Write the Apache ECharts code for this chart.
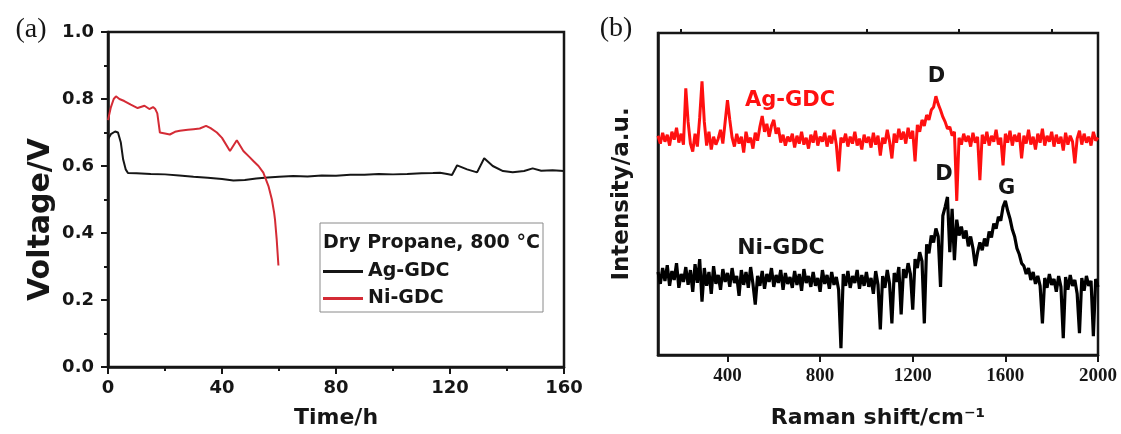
<!DOCTYPE html>
<html><head><meta charset="utf-8">
<script src="https://cdn.jsdelivr.net/npm/echarts@6/dist/echarts.min.js"></script>
<style>html,body{margin:0;padding:0;background:#fff}#c{width:1121px;height:434px}</style>
</head><body><div id="c"></div>
<script>
// ---------- Panel (a): cell voltage vs time ----------
const timeTicks = [0, 40, 80, 120, 160];
const voltageTicks = [0.0, 0.2, 0.4, 0.6, 0.8, 1.0];

const agTime = [0, 1, 2.5, 3.5, 4.5, 5.3, 6.2, 7, 10, 15, 20, 25, 30, 35, 40, 44, 48, 52, 56, 60, 65, 70, 75, 80, 85, 90, 95, 100, 105, 110, 114, 116.5, 119, 120.7, 122.5, 126, 129.5, 132, 135, 138.6, 142, 146, 149, 152, 156, 160];
const agVoltage = [0.68, 0.695, 0.703, 0.70, 0.67, 0.62, 0.59, 0.579, 0.578, 0.576, 0.575, 0.572, 0.568, 0.565, 0.561, 0.557, 0.558, 0.563, 0.566, 0.568, 0.570, 0.569, 0.572, 0.571, 0.574, 0.574, 0.576, 0.575, 0.576, 0.578, 0.579, 0.580, 0.576, 0.573, 0.602, 0.590, 0.581, 0.623, 0.600, 0.585, 0.581, 0.585, 0.593, 0.586, 0.587, 0.585];

const niTime = [0, 1, 2, 2.8, 4, 5.7, 8, 10.4, 12.8, 14.5, 15.8, 16.6, 17.3, 18.2, 20, 21.7, 23.5, 25.2, 28, 30, 32.2, 34.4, 36, 38.2, 40, 42.8, 45.2, 47.5, 49.5, 51, 52.8, 54.5, 56.3, 57.5, 58.3, 58.6, 59.2, 59.8];
const niVoltage = [0.737, 0.775, 0.80, 0.808, 0.80, 0.794, 0.783, 0.773, 0.780, 0.770, 0.776, 0.770, 0.757, 0.700, 0.697, 0.694, 0.702, 0.705, 0.708, 0.710, 0.712, 0.720, 0.713, 0.700, 0.684, 0.645, 0.677, 0.645, 0.628, 0.615, 0.600, 0.580, 0.540, 0.500, 0.460, 0.440, 0.380, 0.303];

// ---------- Panel (b): Raman spectra ----------
const ramanStart = 100;   // cm-1, first sample
const ramanStep = 10;     // cm-1 between samples
const ramanMajorTicks = [400, 800, 1200, 1600, 2000];
const ramanMinorTicks = [200, 600, 1000, 1400, 1800];

const agRaman = [
 222,214,225,216,223,212,226,218,230,215,
 224,213,270,236,214,206,224,211,240,277,
 236,212,226,208,221,213,219,228,214,236,
 258,238,220,211,224,214,221,205,226,215,
 220,209,225,217,231,242,226,234,221,232,
 238,224,230,215,223,212,221,216,224,210,
 222,214,226,213,220,209,223,215,227,212,
 221,216,225,211,222,214,228,213,186,220,
 215,224,211,221,214,226,212,219,208,223,
 215,221,210,225,213,222,202,220,214,228,
 216,199,224,215,229,218,226,214,230,219,
 227,196,233,226,238,232,243,238,248,251,
 262,254,248,241,236,229,231,222,226,156,
 220,213,224,216,222,211,225,215,221,177,
 223,214,226,212,222,216,228,213,220,192,
 224,215,227,212,223,216,225,199,222,214,
 228,213,221,208,224,215,229,212,222,216,
 226,211,223,214,221,207,225,213,222,216,
 194,219,227,213,224,215,221,212,226,217,
 220
];

const niRaman = [
 84,72,88,75,91,70,85,76,93,68,
 82,74,89,71,86,64,92,73,97,54,
 88,70,84,62,90,72,81,66,87,74,
 83,69,88,73,80,60,86,71,84,68,
 89,72,51,80,70,85,67,82,74,88,
 69,81,73,86,66,83,72,79,68,85,
 71,82,65,87,73,80,69,84,70,78,
 64,86,72,81,67,84,71,79,66,7,
 82,70,85,68,80,73,86,67,81,70,
 84,69,78,62,85,71,26,80,68,86,
 72,32,83,74,89,41,87,78,93,82,
 46,97,88,104,95,32,112,103,121,114,
 128,120,69,141,150,160,104,148,96,137,
 121,130,118,126,110,120,108,90,104,114,
 106,118,110,125,119,133,128,140,136,150,
 156,146,138,127,120,108,102,93,90,82,
 88,76,84,72,80,70,32,78,68,82,
 71,77,64,80,69,17,79,66,81,70,
 76,62,22,78,65,80,70,75,19,77,
 69
];

// annotation labels for panel (b): [text, raman shift, intensity, colour key, font size]
const ramanNotes = [
 ['Ag-GDC', 670, 258, 'red', 21],
 ['Ni-GDC', 631, 108, 'black', 22],
 ['D', 1302, 282, 'black', 21],
 ['D', 1335, 183, 'black', 21],
 ['G', 1605, 169, 'black', 21]
];

const SANS = '"DejaVu Sans", sans-serif';
const SERIF = '"Liberation Serif", "DejaVu Serif", serif';
const INK = '#161616';
const RED_A = '#d42b35';
const RED_B = '#ff1010';

const ramanShift = agRaman.map((_, i) => ramanStart + i * ramanStep);

const chart = echarts.init(document.getElementById('c'), null, {renderer: 'canvas', width: 1121, height: 434});

const boldSans = (size) => ({fontFamily: SANS, fontWeight: 'bold', fontSize: size, color: INK});

chart.setOption({
  animation: false,
  backgroundColor: '#fff',
  grid: [
    {left: 108, top: 32, width: 456, height: 337, show: true, borderColor: INK, borderWidth: 2.5, backgroundColor: 'transparent'},
    {left: 658, top: 33, width: 440, height: 326, show: true, borderColor: INK, borderWidth: 2.5, backgroundColor: 'transparent'}
  ],
  xAxis: [
    {gridIndex: 0, type: 'value', min: timeTicks[0], max: timeTicks[timeTicks.length - 1], interval: 40,
     axisLine: {show: true, onZero: false, lineStyle: {color: INK, width: 2.5}},
     axisTick: {show: true, length: 7, lineStyle: {color: INK, width: 2}},
     minorTick: {show: true, splitNumber: 2, length: 4, lineStyle: {color: INK, width: 2}},
     splitLine: {show: false},
     axisLabel: Object.assign({margin: 12, formatter: v => String(v)}, boldSans(18)),
     name: 'Time/h', nameLocation: 'middle', nameGap: 40, nameTextStyle: boldSans(22)},
    {gridIndex: 1, type: 'value', min: 100, max: 2000,
     axisLine: {show: true, onZero: false, lineStyle: {color: INK, width: 2.5}},
     axisTick: {show: true, customValues: ramanMajorTicks, length: 7, lineStyle: {color: INK, width: 2}},
     splitLine: {show: false},
     axisLabel: {customValues: ramanMajorTicks, formatter: v => String(v), margin: 12, fontFamily: SERIF, fontWeight: 'bold', fontSize: 19, color: INK},
     name: 'Raman shift/cm\u207B\u00B9', nameLocation: 'middle', nameGap: 52, nameTextStyle: boldSans(22)},
    {gridIndex: 1, type: 'value', min: 100, max: 2000,
     axisLine: {show: false, onZero: false},
     axisTick: {show: true, customValues: ramanMinorTicks, length: 4, lineStyle: {color: INK, width: 2}},
     axisLabel: {show: false}, splitLine: {show: false}}
  ],
  yAxis: [
    {gridIndex: 0, type: 'value', min: voltageTicks[0], max: voltageTicks[voltageTicks.length - 1], interval: 0.2,
     axisLine: {show: true, onZero: false, lineStyle: {color: INK, width: 2.5}},
     axisTick: {show: true, length: 7, lineStyle: {color: INK, width: 2}},
     minorTick: {show: true, splitNumber: 2, length: 4, lineStyle: {color: INK, width: 2}},
     splitLine: {show: false},
     axisLabel: Object.assign({margin: 14, formatter: v => v.toFixed(1)}, boldSans(18)),
     name: 'Voltage/V', nameLocation: 'middle', nameGap: 52,
     nameTextStyle: Object.assign({padding: [0, 40, 0, 0]}, boldSans(30))},
    {gridIndex: 1, type: 'value', min: 0, max: 326,
     axisLine: {show: true, onZero: false, lineStyle: {color: INK, width: 2.5}},
     axisTick: {show: false}, axisLabel: {show: false}, splitLine: {show: false},
     name: 'Intensity/a.u.', nameLocation: 'middle', nameGap: 24, nameTextStyle: boldSans(23)}
  ],
  legend: {
    data: ['Ag-GDC', 'Ni-GDC'], orient: 'vertical', left: 323, top: 262, padding: 0,
    itemWidth: 40, itemHeight: 3, itemGap: 8, icon: 'rect',
    textStyle: boldSans(19), selectedMode: false
  },
  series: [
    {type: 'line', name: 'Ag-GDC', xAxisIndex: 0, yAxisIndex: 0, showSymbol: false, symbol: 'none',
     data: agTime.map((t, i) => [t, agVoltage[i]]), color: INK, lineStyle: {color: INK, width: 2}},
    {type: 'line', name: 'Ni-GDC', xAxisIndex: 0, yAxisIndex: 0, showSymbol: false, symbol: 'none',
     data: niTime.map((t, i) => [t, niVoltage[i]]), color: RED_A, lineStyle: {color: RED_A, width: 2}},
    {type: 'line', name: 'Ag-GDC Raman', xAxisIndex: 1, yAxisIndex: 1, showSymbol: false, symbol: 'none',
     data: ramanShift.map((x, i) => [x, agRaman[i]]), color: RED_B, lineStyle: {color: RED_B, width: 3}},
    {type: 'line', name: 'Ni-GDC Raman', xAxisIndex: 1, yAxisIndex: 1, showSymbol: false, symbol: 'none',
     data: ramanShift.map((x, i) => [x, niRaman[i]]), color: '#000', lineStyle: {color: '#000', width: 3.2}}
  ]
});

const notes = ramanNotes.map(([txt, x, y, col, size]) => {
  const p = chart.convertToPixel({xAxisIndex: 1, yAxisIndex: 1}, [x, y]);
  return {type: 'text', x: p[0], y: p[1], z: 10,
    style: {text: txt, font: 'bold ' + size + 'px ' + SANS, fill: col === 'red' ? RED_B : INK, align: 'center', verticalAlign: 'middle'}};
});

chart.setOption({
  graphic: [
    {type: 'rect', shape: {x: 320, y: 223, width: 223, height: 89}, style: {fill: 'rgba(0,0,0,0)', stroke: '#8a8a8a', lineWidth: 1}, z: 5},
    {type: 'text', x: 323, y: 243, z: 6, style: {text: 'Dry Propane, 800 \u00B0C', font: 'bold 19px ' + SANS, fill: INK, align: 'left', verticalAlign: 'middle'}},
    {type: 'text', x: 31, y: 30, z: 6, style: {text: '(a)', font: '28px ' + SERIF, fill: INK, align: 'center', verticalAlign: 'middle'}},
    {type: 'text', x: 616, y: 29, z: 6, style: {text: '(b)', font: '28px ' + SERIF, fill: INK, align: 'center', verticalAlign: 'middle'}}
  ].concat(notes)
});
</script>
</body></html>
